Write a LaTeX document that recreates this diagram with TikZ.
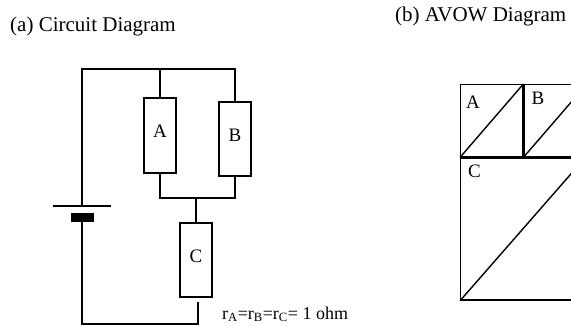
\documentclass[tikz,border=0pt]{standalone}
\usepackage{fontspec}
\setmainfont{Liberation Serif}
\usetikzlibrary{positioning, calc}

\begin{document}
\begin{tikzpicture}[
			x=1pt,
			y=-1pt,
			wire/.style={
				draw=black,
				line width=1.2pt
			},
			resistor/.style={
				draw=black,
				rectangle,
				line width=1.3pt,
				minimum width=32pt,
				minimum height=75pt,
				inner sep=0pt,
				text height=12.5pt,
				text depth=8pt,
				font=\fontsize{19}{19}\selectfont
			},
			avow/.style={
				draw=black,
				rectangle,
				line width=1.4pt,
				inner sep=0pt
			},
			caption/.style={
				anchor=base west,
				inner sep=0pt,
				font=\fontsize{21}{21}\selectfont
			},
			tag/.style={
				anchor=north west,
				inner sep=0pt,
				font=\fontsize{19}{19}\selectfont
			}
			]
			\useasboundingbox (0,0) rectangle (571,325);
			
			% Titles
			\node[caption] (capA) at (10,31) {(a) Circuit Diagram};
			\node[caption] (capB) at (395,21) {(b) AVOW Diagram};
			
			% Resistors
			\node[resistor] (A) at (160,135.5) {A};
			\node[resistor, minimum height=74pt] (B) at (235,139) {B};
			\node[resistor, minimum height=74pt] (C) at (196,260) {C};
			
			% Wire corners
			\coordinate (tl) at (82,69);
			\coordinate (bl) at (82,324);
			\coordinate (jn) at (196,198);
			\coordinate (cgap) at (198,302);
			\coordinate (br) at (198,324);
			\coordinate (plus) at (82,206);
			\coordinate (minus) at (82,222);
			
			% Battery
			\draw[wire] ($(plus)+(-29,0)$) -- ($(plus)+(29,0)$);
			\fill ($(minus)+(-11.5,-9)$) rectangle ($(minus)+(11.5,0)$);
			
			% Wires
			\draw[wire] (plus) -- (tl) -| (B.north);
			\draw[wire] (A.north) -- (A.north |- tl);
			\draw[wire] (A.south) |- (jn) -| (B.south);
			\draw[wire] (jn) -- (C.north);
			\draw[wire] (minus) -- (bl) -- (br) -- (cgap);
			
			\node[anchor=base west, inner sep=0pt, font=\fontsize{18}{18}\selectfont]
			(note) at (222,319) {r\textsubscript{A}=r\textsubscript{B}=r\textsubscript{C}= 1 ohm};
			
			% AVOW diagram
			\begin{scope}
				\clip (0,0) rectangle (571,325);
				\node[avow, minimum width=62pt, minimum height=72pt, anchor=north west] (vA) at (460,84) {};
				\node[avow, minimum width=62pt, minimum height=72pt, anchor=north west] (vB) at (vA.north east) {};
				\node[avow, minimum width=124pt, minimum height=142pt, anchor=north west] (vC) at (vA.south west) {};
				\draw[avow] (vA.south west) -- (vA.north east);
				\draw[avow] (vB.south west) -- (vB.north east);
				\draw[avow] (vC.south west) -- (vC.north east);
			\end{scope}
			\node[tag] at ($(vA.north west)+(6,12)$) {A};
			\node[tag] at ($(vB.north west)+(8,8)$) {B};
			\node[tag] at ($(vC.north west)+(8,7)$) {C};
		\end{tikzpicture}
\end{document}
